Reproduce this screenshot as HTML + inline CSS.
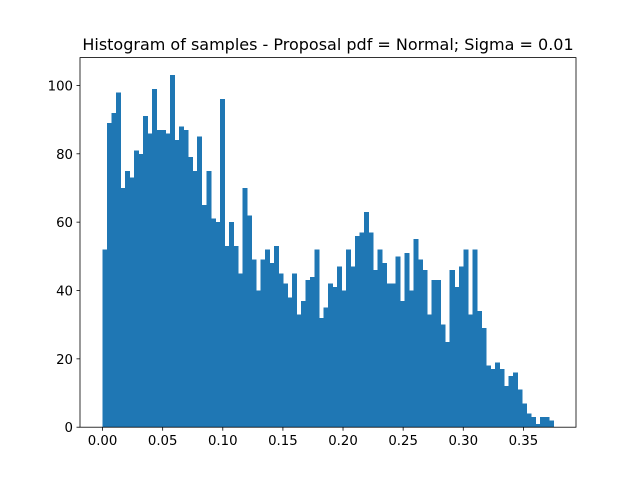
<!DOCTYPE html>
<html><head><meta charset="utf-8"><style>
body{margin:0;background:#fff;}
svg{display:block;font-family:"DejaVu Sans","Liberation Sans",sans-serif;}
</style></head><body>
<svg id="chart" width="640" height="480">
<rect width="640" height="480" fill="#fff"/>
<text x="328" y="50" text-anchor="middle" font-size="16">Histogram of samples - Proposal pdf = Normal; Sigma = 0.01</text>
<g id="bars" shape-rendering="crispEdges"></g>
<g id="axes"></g>
</svg>
<script>
const counts = [52,89,92,98,70,75,73,81,80,91,86,99,87,87,86,103,84,88,87,79,75,85,65,75,61,60,96,53,60,53,45,70,62,49,40,49,52,48,53,45,42,38,45,33,37,43,44,52,32,35,42,41,47,40,52,47,56,57,63,57,46,52,48,42,42,50,37,51,40,55,49,46,33,43,43,30,25,46,41,47,52,33,52,34,29,18,17,19,17,12,15,16,11,7,4,3,1,3,3,2];
const binStart = 0;
const binEnd = 0.375;
const xTicks = [0, 0.05, 0.10, 0.15, 0.20, 0.25, 0.30, 0.35];
const xTickLabels = ["0.00","0.05","0.10","0.15","0.20","0.25","0.30","0.35"];
const yTicks = [0, 20, 40, 60, 80, 100];

const NS = "http://www.w3.org/2000/svg";
const L = 80, R = 576, T = 57.6, B = 427.2;
const pad = (binEnd - binStart) * 0.05;
const xMin = binStart - pad, xMax = binEnd + pad;
const yMax = Math.max(...counts) * 1.05;
const sx = v => L + (v - xMin) / (xMax - xMin) * (R - L);
const sy = v => B - v / yMax * (B - T);
const bw = (binEnd - binStart) / counts.length;

const bars = document.getElementById('bars');
counts.forEach((c, i) => {
  const r = document.createElementNS(NS, 'rect');
  const x0 = sx(binStart + i * bw), x1 = sx(binStart + (i + 1) * bw);
  r.setAttribute('x', x0);
  r.setAttribute('width', x1 - x0 + 0.5);
  r.setAttribute('y', sy(c));
  r.setAttribute('height', B - sy(c));
  r.setAttribute('fill', '#1f77b4');
  
  
  bars.appendChild(r);
});

const axes = document.getElementById('axes');
const frame = document.createElementNS(NS, 'rect');
frame.setAttribute('x', L); frame.setAttribute('y', T);
frame.setAttribute('width', R - L); frame.setAttribute('height', B - T);
frame.setAttribute('fill', 'none'); frame.setAttribute('stroke', '#000'); frame.setAttribute('stroke-width', '0.8');


axes.appendChild(frame);

xTicks.forEach((v, i) => {
  const x = sx(v);
  const l = document.createElementNS(NS, 'line');
  l.setAttribute('x1', x); l.setAttribute('x2', x); l.setAttribute('y1', B); l.setAttribute('y2', B + 3.5);
  l.setAttribute('stroke', '#000'); l.setAttribute('stroke-width', '0.8');
  
  
  axes.appendChild(l);
  const t = document.createElementNS(NS, 'text');
  t.setAttribute('x', x); t.setAttribute('y', B + 18); t.setAttribute('text-anchor', 'middle'); t.setAttribute('font-size', '13.3');
  t.textContent = xTickLabels[i];
  
  
  axes.appendChild(t);
});
yTicks.forEach(v => {
  const y = sy(v);
  const l = document.createElementNS(NS, 'line');
  l.setAttribute('x1', L - 3.5); l.setAttribute('x2', L); l.setAttribute('y1', y); l.setAttribute('y2', y);
  l.setAttribute('stroke', '#000'); l.setAttribute('stroke-width', '0.8');
  
  
  axes.appendChild(l);
  const t = document.createElementNS(NS, 'text');
  t.setAttribute('x', L - 7); t.setAttribute('y', y + 5); t.setAttribute('text-anchor', 'end'); t.setAttribute('font-size', '13.3');
  t.textContent = String(v);
  
  
  axes.appendChild(t);
});
</script>
</body></html>
